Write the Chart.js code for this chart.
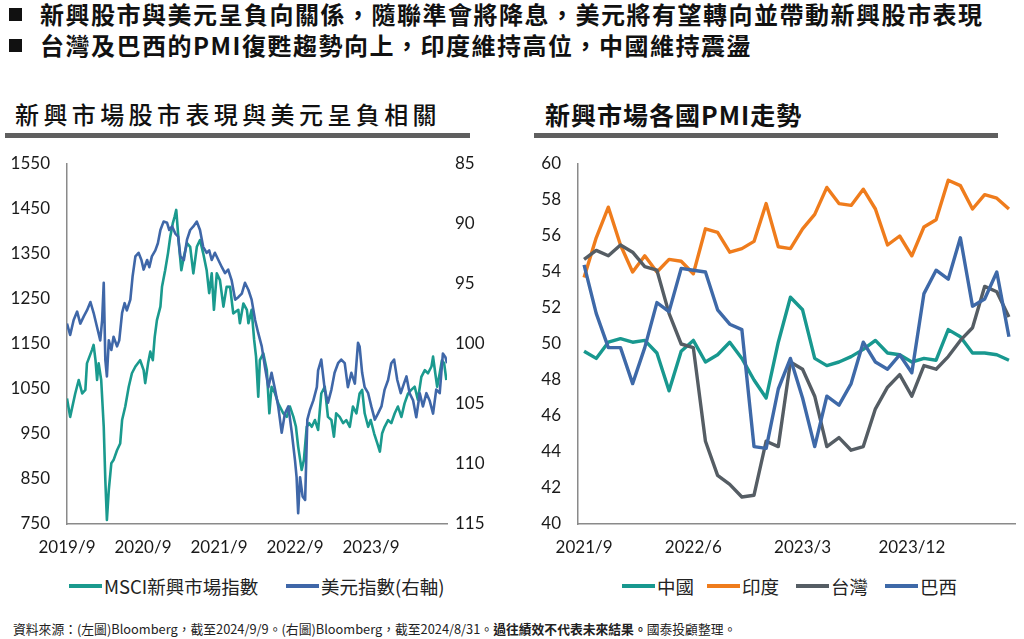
<!DOCTYPE html>
<html lang="zh-Hant">
<head>
<meta charset="utf-8">
<script src="https://cdn.jsdelivr.net/npm/chart.js@4.4.1/dist/chart.umd.min.js"></script>
<style>
html,body{margin:0;padding:0;background:#fff;}
body{width:1024px;height:639px;position:relative;overflow:hidden;font-family:"Noto Sans CJK TC","Noto Sans",sans-serif;color:#111;}
.abs{position:absolute;white-space:nowrap;}
.sq{position:absolute;width:13px;height:13px;background:#111;}
.hl{font-size:24px;font-weight:700;line-height:24px;letter-spacing:1.5px;}
.t1{font-size:24px;font-weight:500;line-height:30px;letter-spacing:4.4px;}
.t2{font-size:25px;font-weight:700;line-height:30px;letter-spacing:1px;}
.bar{position:absolute;height:5px;background:#5f5f5f;}
.lg{position:absolute;display:flex;align-items:center;font-size:18.5px;line-height:24px;color:#222;white-space:nowrap;}
.lg i{display:inline-block;width:33px;height:4px;margin-right:2px;}
.foot{font-size:12.8px;line-height:16px;color:#222;}
canvas{position:absolute;}
</style>
</head>
<body>
<div class="sq" style="left:9px;top:8px;"></div>
<div class="abs hl" style="left:40px;top:2px;">新興股市與美元呈負向關係，隨聯準會將降息，美元將有望轉向並帶動新興股市表現</div>
<div class="sq" style="left:9px;top:39px;"></div>
<div class="abs hl" style="left:40px;top:33px;">台灣及巴西的PMI復甦趨勢向上，印度維持高位，中國維持震盪</div>

<div class="abs t1" style="left:15px;top:99px;">新興市場股市表現與美元呈負相關</div>
<div class="bar" style="left:5px;top:133px;width:465px;"></div>
<div class="abs t2" style="left:545px;top:99px;">新興市場各國PMI走勢</div>
<div class="bar" style="left:534px;top:133px;width:464px;"></div>

<canvas id="c1" width="500" height="410" style="left:0;top:150px;"></canvas>
<canvas id="c2" width="524" height="410" style="left:500px;top:150px;"></canvas>

<div class="lg" style="left:69px;top:574px;"><i style="background:#1a9a8e"></i>MSCI新興市場指數</div>
<div class="lg" style="left:286px;top:574px;"><i style="background:#3f67a8"></i>美元指數(右軸)</div>
<div class="lg" style="left:622px;top:574px;"><i style="background:#18988f"></i>中國</div>
<div class="lg" style="left:707px;top:574px;"><i style="background:#ef7c1c"></i>印度</div>
<div class="lg" style="left:796px;top:574px;"><i style="background:#555d64"></i>台灣</div>
<div class="lg" style="left:885px;top:574px;"><i style="background:#3e69a8"></i>巴西</div>

<div class="abs foot" style="left:13px;top:621px;">資料來源：(左圖)Bloomberg，截至2024/9/9。(右圖)Bloomberg，截至2024/8/31。<b>過往績效不代表未來結果。</b>國泰投顧整理。</div>

<script>
// ---- Left chart data (x = months since 2019/9) ----
const xTickMonths = [0, 12, 24, 36, 48];
const xTickLabels = ['2019/9', '2020/9', '2021/9', '2022/9', '2023/9'];

const msciT = [0,0.5,1.3,1.85,2.4,2.9,3.15,3.95,4.2,4.5,
4.75,5.0,5.4,5.8,6.05,6.3,6.6,7.0,7.35,7.9,
8.4,8.7,9.2,9.75,10.25,10.8,11.55,12.1,12.35,12.8,
13.15,13.55,13.85,14.2,14.75,15.0,15.5,15.95,16.3,16.7,
17.0,17.25,17.65,18.05,18.45,18.95,19.45,19.95,20.5,21.0,
21.5,22.05,22.45,22.85,23.2,23.65,24.15,24.7,25.2,25.75,
26.25,27.05,27.3,27.85,28.4,28.65,29.15,29.55,29.85,30.2,
30.45,31.0,31.55,31.95,32.3,32.85,33.35,34.15,34.7,35.2,
35.75,36.15,36.5,37.05,37.4,37.85,38.25,38.65,39.15,39.65,
40.15,40.7,41.2,41.75,42.15,42.5,43.05,43.6,44.1,44.65,
45.15,45.7,46.2,46.6,47.0,47.55,47.95,48.5,49.0,49.4,
49.75,50.15,50.7,51.2,51.75,52.25,52.8,53.3,53.85,54.35,
54.9,55.4,55.95,56.5,57.0,57.55,57.8,58.15,58.45,58.85,
59.2,59.55,59.9];
const msciV = [1029,988,1040,1070,1040,1048,1107,1137,1148,1114,
1070,1107,1070,966,848,759,826,885,892,914,
929,981,1011,1055,1085,1100,1114,1092,1063,1107,
1133,1114,1166,1203,1233,1277,1314,1352,1388,1418,
1433,1448,1374,1314,1344,1374,1366,1307,1366,1381,
1352,1314,1263,1307,1226,1307,1292,1233,1277,1277,
1218,1226,1196,1240,1226,1196,1226,1159,1122,1033,
1114,1129,1092,996,1055,1040,1018,996,988,1011,
988,966,922,870,892,966,974,966,981,959,
1040,1055,988,981,944,996,988,974,981,966,
1011,996,1040,1048,996,966,981,951,929,911,
951,966,981,974,996,1011,988,1018,1040,1048,
1055,1026,1077,1092,1085,1100,1122,1085,1055,1085,
1114,1107,1070];

const dxyT = [0,0.5,1.05,1.6,2.1,2.65,3.15,3.7,4.2,4.75,
5.25,5.55,5.8,6.05,6.3,6.6,7.0,7.35,7.9,8.25,
8.7,9.1,9.45,10.0,10.35,10.8,11.3,11.75,12.1,12.65,
13.0,13.4,13.95,14.35,14.75,15.25,15.8,16.15,16.6,17.1,
17.55,17.9,18.45,18.95,19.45,19.95,20.5,21.0,21.5,22.05,
22.45,22.85,23.35,23.9,24.45,24.95,25.45,26.0,26.55,27.05,
27.6,28.1,28.65,29.15,29.7,30.2,30.75,31.25,31.8,32.3,
32.85,33.35,33.9,34.4,34.95,35.5,36.0,36.25,36.5,36.8,
37.2,37.6,37.95,38.35,38.9,39.45,39.65,40.15,40.7,41.2,
41.75,42.25,42.8,43.3,43.85,44.35,44.9,45.45,45.95,46.2,
46.6,47.0,47.55,48.05,48.6,49.1,49.65,50.15,50.7,51.2,
51.65,52.15,52.7,53.2,53.6,54.1,54.65,55.15,55.7,56.2,
56.75,57.25,57.8,58.3,58.85,59.35,59.75,60.0];
const dxyV = [98.3,99.25,98.0,97.3,98.3,97.7,97.2,96.5,97.4,98.6,
99.7,98.0,94.9,101.3,102.7,99.7,100.5,99.4,100.2,99.7,
97.4,96.6,97.2,96.3,94.4,92.7,92.4,93.0,93.8,93.0,
93.6,92.7,92.2,91.6,90.5,89.8,89.9,90.5,90.2,90.8,
91.05,92.7,93.0,91.3,90.5,90.2,89.8,90.5,91.9,92.4,
92.2,93.0,92.4,93.0,93.6,94.1,93.8,94.7,96.3,96.1,
95.8,94.9,95.5,96.3,98.0,99.1,100.2,101.9,103.6,102.4,
103.8,105.2,107.4,105.8,105.2,107.4,109.7,111.1,114.1,111.1,
112.7,113.0,106.3,105.5,104.7,103.6,102.2,101.3,103.8,104.9,
103.8,102.4,101.6,101.3,101.6,103.6,102.4,103.3,99.9,100.2,
102.4,103.6,104.1,105.2,106.3,105.8,105.2,103.8,103.0,101.6,
101.3,103.0,104.1,103.3,102.7,104.1,104.7,106.1,104.1,105.2,
104.1,104.7,105.8,103.8,104.1,100.8,101.1,101.6];

// ---- Right chart data (monthly PMI) ----
const pmiMonths = ['2021/9','2021/10','2021/11','2021/12',
'2022/1','2022/2','2022/3','2022/4','2022/5','2022/6','2022/7','2022/8','2022/9','2022/10','2022/11','2022/12',
'2023/1','2023/2','2023/3','2023/4','2023/5','2023/6','2023/7','2023/8','2023/9','2023/10','2023/11','2023/12',
'2024/1','2024/2','2024/3','2024/4','2024/5','2024/6','2024/7','2024/8'];
const chinaPMI = [49.6,49.2,50.1,50.3,50.1,50.2,49.5,47.4,49.6,50.2,49.0,49.4,50.1,49.2,48.0,47.0,50.1,52.6,51.9,49.2,48.8,49.0,49.3,49.7,50.2,49.5,49.4,49.0,49.2,49.1,50.8,50.4,49.5,49.5,49.4,49.1];
const indiaPMI = [53.7,55.9,57.6,55.5,54.0,54.9,54.0,54.7,54.6,53.9,56.4,56.2,55.1,55.3,55.7,57.8,55.4,55.3,56.4,57.2,58.7,57.8,57.7,58.6,57.5,55.5,56.0,54.9,56.5,56.9,59.1,58.8,57.5,58.3,58.1,57.5];
const taiwanPMI = [54.7,55.2,54.9,55.5,55.1,54.3,54.1,51.7,50.0,49.8,44.6,42.7,42.2,41.5,41.6,44.6,44.3,49.0,48.6,47.1,44.3,44.8,44.1,44.3,46.4,47.6,48.3,47.1,48.8,48.6,49.3,50.2,50.9,53.2,52.9,51.5];
const brazilPMI = [54.4,51.7,49.8,49.8,47.8,49.8,52.3,51.8,54.2,54.1,54.0,51.9,51.1,50.8,44.3,44.2,47.5,49.2,47.0,44.3,47.1,46.6,47.8,50.1,49.0,48.6,49.4,48.4,52.8,54.1,53.6,55.9,52.1,52.5,54.0,50.4];

const tickFont = {family: 'Lato', size: 17};
const tickColor = '#1a1a1a';
const axisBorder = {color: '#8a8a8a', width: 1.5};
// invisible tick marks used as label offset (keeps chart-area padding tight)
const gapGrid = (len) => ({display: true, drawOnChartArea: false, drawTicks: true, tickLength: len, tickColor: 'rgba(0,0,0,0)'});
const plain = (v) => String(v);

const pairs = (xs, ys) => xs.map((x, i) => ({x: x, y: ys[i]}));

new Chart(document.getElementById('c1'), {
  type: 'line',
  data: {
    datasets: [
      {label: 'MSCI新興市場指數', data: pairs(msciT, msciV), borderColor: '#1a9a8e', borderWidth: 2.6,
       pointRadius: 0, yAxisID: 'y', order: 1, tension: 0, borderJoinStyle: 'round'},
      {label: '美元指數(右軸)', data: pairs(dxyT, dxyV), borderColor: '#3f67a8', borderWidth: 2.6,
       pointRadius: 0, yAxisID: 'y1', order: 0, tension: 0, borderJoinStyle: 'round'}
    ]
  },
  options: {
    responsive: false, animation: false, devicePixelRatio: 1,
    layout: {padding: {top: 14, right: 0, left: 0, bottom: 0}},
    plugins: {legend: {display: false}, tooltip: {enabled: false}},
    scales: {
      x: {type: 'linear', min: 0, max: 60,
          grid: gapGrid(13), border: axisBorder,
          ticks: {padding: 0, font: tickFont, color: tickColor, maxRotation: 0, autoSkip: false,
                  callback: (v) => { const k = xTickMonths.indexOf(v); return k >= 0 ? xTickLabels[k] : ''; }},
          afterBuildTicks: (s) => { s.ticks = xTickMonths.map(v => ({value: v})); },
          afterFit: (s) => { s.height = 36; }},
      y: {position: 'left', min: 750, max: 1550,
          grid: gapGrid(17), border: axisBorder,
          ticks: {stepSize: 100, padding: 0, font: tickFont, color: tickColor, callback: plain},
          afterFit: (s) => { s.width = 67; }},
      y1: {position: 'right', min: 85, max: 115, reverse: true,
          grid: gapGrid(8), border: {display: false},
          ticks: {stepSize: 5, padding: 0, font: tickFont, color: tickColor, callback: plain},
          afterFit: (s) => { s.width = 53; }}
    }
  }
});

new Chart(document.getElementById('c2'), {
  type: 'line',
  data: {
    labels: pmiMonths,
    datasets: [
      {label: '中國', data: chinaPMI, borderColor: '#18988f', borderWidth: 3.4, pointRadius: 0, tension: 0, borderJoinStyle: 'round', order: 3},
      {label: '印度', data: indiaPMI, borderColor: '#ef7c1c', borderWidth: 3.4, pointRadius: 0, tension: 0, borderJoinStyle: 'round', order: 2},
      {label: '台灣', data: taiwanPMI, borderColor: '#555d64', borderWidth: 3.4, pointRadius: 0, tension: 0, borderJoinStyle: 'round', order: 1},
      {label: '巴西', data: brazilPMI, borderColor: '#3e69a8', borderWidth: 3.4, pointRadius: 0, tension: 0, borderJoinStyle: 'round', order: 0}
    ]
  },
  options: {
    responsive: false, animation: false, devicePixelRatio: 1,
    layout: {padding: {top: 14, right: 9, left: 0, bottom: 0}},
    plugins: {legend: {display: false}, tooltip: {enabled: false}},
    scales: {
      x: {offset: true,
          grid: Object.assign(gapGrid(13), {offset: true}), border: axisBorder,
          ticks: {padding: 0, font: tickFont, color: tickColor, maxRotation: 0, autoSkip: false,
                  callback: function (v, i) { return i % 9 === 0 ? this.getLabelForValue(v) : ''; }},
          afterFit: (s) => { s.height = 36; }},
      y: {min: 40, max: 60,
          grid: gapGrid(17), border: axisBorder,
          ticks: {stepSize: 2, padding: 0, font: tickFont, color: tickColor, callback: plain},
          afterFit: (s) => { s.width = 78; }}
    }
  }
});
</script>
</body>
</html>
